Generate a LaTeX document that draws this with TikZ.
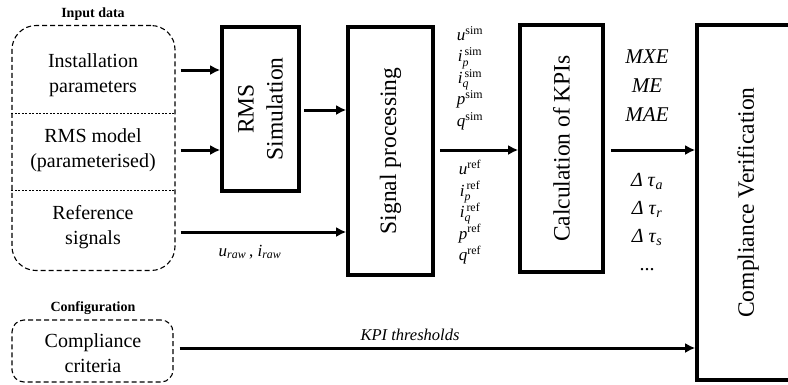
\documentclass[tikz,border=0pt]{standalone}
\usepackage{fontspec}
\setmainfont{Liberation Serif}
\usepackage{tikz}
\usetikzlibrary{arrows.meta}

\begin{document}
\begin{tikzpicture}[x=1pt,y=-1pt,
  inbox/.style={draw,dash pattern=on 5pt off 3pt,line width=1.1pt},
  block/.style={draw,line width=3.6pt,inner sep=0pt},
  flow/.style={line width=3pt,-{Latex[length=10pt,width=10pt]}},
  lbl/.style={align=center,font=\fontsize{20}{25}\selectfont},
  rlbl/.style={align=center,rotate=90,font=\fontsize{23.5}{29}\selectfont},
  sig/.style={align=center,font=\fontsize{17}{21.5}\selectfont},
  head/.style={font=\fontsize{14}{16}\selectfont\bfseries}]
\useasboundingbox (0,0) rectangle (788,384);
\clip (0,0) rectangle (788,384);

% input data
\node[head] (inhead) at (93,14) {Input data};
\node[inbox,rounded corners=24pt,minimum width=163pt,minimum height=245pt] (input) at (93.5,148) {};
\draw[dash pattern=on 2pt off 1.5pt,line width=0.9pt] (input.west |- 0,113) -- (input.east |- 0,113);
\draw[dash pattern=on 2pt off 1.5pt,line width=0.9pt] (input.west |- 0,190) -- (input.east |- 0,190);
\node[lbl] (inst) at (93,75) {Installation\\parameters};
\node[lbl] (rmsmod) at (93,150) {RMS model\\(parameterised)};
\node[lbl] (refsig) at (93,227) {Reference\\signals};

% configuration
\node[head] (confhead) at (93,308) {Configuration};
\node[inbox,rounded corners=12pt,minimum width=161pt,minimum height=62pt] (crit) at (92.5,351) {};
\node[lbl] (crittext) at (93,353) {Compliance\\criteria};

% blocks
\node[block,minimum width=77pt,minimum height=164pt] (rms) at (260.5,109) {};
\node[rlbl] at (rms) {RMS\\Simulation};
\node[block,minimum width=85pt,minimum height=248pt] (sp) at (390.5,151) {};
\node[rlbl] at (sp) {Signal processing};
\node[block,minimum width=83pt,minimum height=247pt] (kpi) at (561.5,148.5) {};
\node[rlbl] at (kpi) {Calculation of KPIs};
\node[block,minimum width=102pt,minimum height=355pt] (cv) at (748,202.5) {};
\node[rlbl] at (cv) {Compliance Verification};

% connectors
\draw[flow,shorten <=5pt] (input.east |- 0,70) -- (rms.west |- 0,70);
\draw[flow,shorten <=5pt] (input.east |- 0,150) -- (rms.west |- 0,150);
\draw[flow,shorten <=5pt] (input.east |- 0,232) -- (sp.west |- 0,232);
\draw[flow,shorten <=3pt] (rms.east |- 0,110) -- (sp.west |- 0,110);
\draw[flow,shorten <=5pt] (sp.east |- 0,150) -- (kpi.west |- 0,150);
\draw[flow,shorten <=6pt] (kpi.east |- 0,150) -- (cv.west |- 0,150);
\draw[flow,shorten <=6pt] (crit.east |- 0,348) -- (cv.west |- 0,348);

% labels
\node[font=\fontsize{17}{19}\selectfont] (raw) at (250,252) {$\mathit{u}_{\mathit{raw}}$\,, $\mathit{i}_{\mathit{raw}}$};
\node[sig] (simlbl) at (470,78)
  {$\mathit{u}^{\mathrm{sim}}$\\$\mathit{i}_{\mathit{p}}^{\,\mathrm{sim}}$\\$\mathit{i}_{\mathit{q}}^{\,\mathrm{sim}}$\\$\mathit{p}^{\mathrm{sim}}$\\$\mathit{q}^{\mathrm{sim}}$};
\node[sig] (reflbl) at (470,212)
  {$\mathit{u}^{\mathrm{ref}}$\\$\mathit{i}_{\mathit{p}}^{\,\mathrm{ref}}$\\$\mathit{i}_{\mathit{q}}^{\,\mathrm{ref}}$\\$\mathit{p}^{\mathrm{ref}}$\\$\mathit{q}^{\mathrm{ref}}$};
\node[align=center,font=\fontsize{21}{29}\itshape] (errlbl) at (647,86) {MXE\\ME\\MAE};
\node[align=center,font=\fontsize{20}{28}\selectfont] (taulbl) at (647,222)
  {\textit{Δ τ}$_{\mathit{a}}$\\\textit{Δ τ}$_{\mathit{r}}$\\\textit{Δ τ}$_{\mathit{s}}$\\...};
\node[font=\fontsize{16.5}{19}\itshape] (thr) at (410,335) {KPI thresholds};
\end{tikzpicture}
\end{document}
